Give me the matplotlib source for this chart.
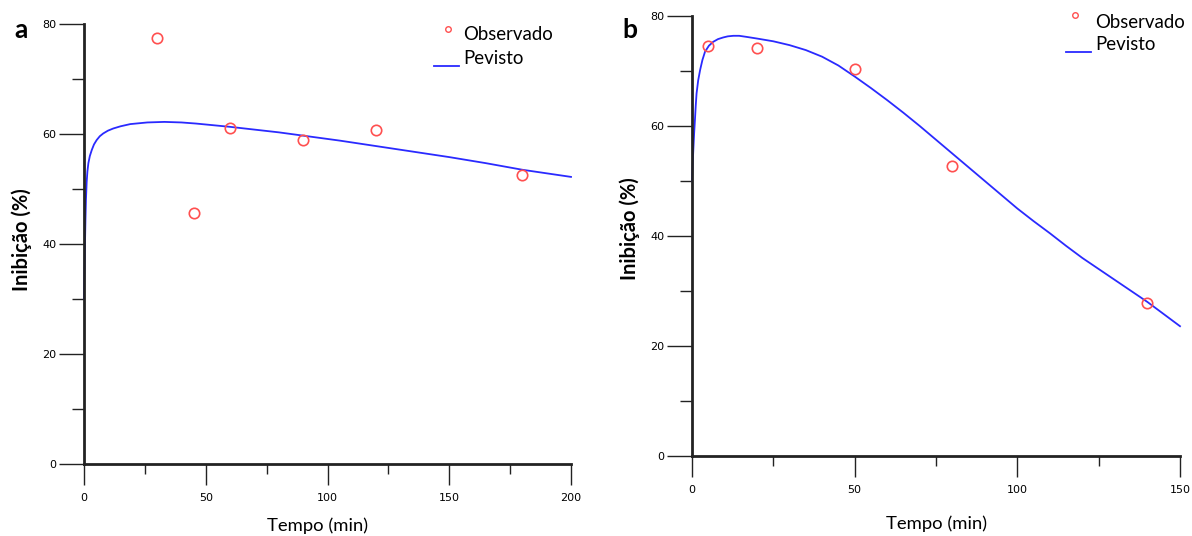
import matplotlib
matplotlib.use("Agg")
import matplotlib.pyplot as plt
from matplotlib.ticker import MultipleLocator
from matplotlib.lines import Line2D

# Panel a: observed inhibition and fitted curve
obs_t_a = [30, 45, 60, 90, 120, 180]
obs_v_a = [77.4, 45.6, 61.1, 58.9, 60.7, 52.5]
fit_t_a = [0, 0.2, 0.4, 0.6, 0.8, 1.1, 1.4, 1.8, 2.4, 3.2, 4.1, 5.2, 6.5,
           7.9, 9.8, 12, 15, 19, 26, 33, 40, 46, 53, 60, 70, 80, 90, 105,
           120, 135, 150, 165, 180, 200]
fit_v_a = [30, 35.5, 40, 44.5, 48, 51.3, 53.2, 54.7, 56.0, 57.1, 58.1, 58.9,
           59.6, 60.1, 60.6, 61.0, 61.4, 61.8, 62.1, 62.2, 62.1, 61.9, 61.6,
           61.3, 60.8, 60.3, 59.7, 58.8, 57.8, 56.8, 55.8, 54.7, 53.5, 52.2]

# Panel b
obs_t_b = [5, 20, 50, 80, 140]
obs_v_b = [74.5, 74.2, 70.4, 52.7, 27.9]
fit_t_b = [0, 0.2, 0.4, 0.65, 0.9, 1.15, 1.4, 1.9, 2.5, 3.2, 4, 5.2, 6.5,
           8, 9.6, 11, 12.7, 14.5, 16.8, 20, 25, 30, 35, 40, 45, 50, 55, 60,
           65, 70, 75, 80, 85, 90, 95, 100, 105, 110, 115, 120, 125, 130,
           135, 140, 145, 150]
fit_v_b = [50, 53.0, 55.6, 58.6, 61.1, 63.7, 65.9, 68.3, 70.2, 72.0, 73.5,
           74.6, 75.3, 75.8, 76.1, 76.3, 76.4, 76.4, 76.2, 75.9, 75.4, 74.7,
           73.8, 72.6, 71.0, 69.0, 66.9, 64.7, 62.4, 60.0, 57.5, 55.0, 52.5,
           50.0, 47.5, 45.0, 42.7, 40.5, 38.2, 36.0, 34.0, 32.0, 30.0, 28.0,
           25.8, 23.6]

xlims = [(0, 200), (0, 150)]
ylim = (0, 80)
ylabel = "Inibição (%)"
xlabel = "Tempo (min)"
letters = ["a", "b"]
legend_labels = ["Observado", "Pevisto"]

RED = "#ff5050"
BLUE = "#2a2aff"
W, H = 1192, 536

fig = plt.figure(figsize=(W / 100, H / 100), dpi=100)

def px_rect(l, r, t, b):
    return [l / W, 1 - b / H, (r - l) / W, (b - t) / H]

axes_px = [(84, 571, 24, 464), (692, 1180, 16, 456)]
data = [(obs_t_a, obs_v_a, fit_t_a, fit_v_a), (obs_t_b, obs_v_b, fit_t_b, fit_v_b)]
letter_pos = [(14, 38), (622, 38)]
ylabel_pos = [(22, 240), (630, 229)]
xlabel_pos = [(318, 526), (937, 524)]
legend_px = [(448, 29, 463, 35, 434, 459, 66, 59),
             (1075, 15, 1095, 22, 1066, 1091, 52, 45)]

lab_font = "Lato"

for i, ax_px in enumerate(axes_px):
    l, r, t, b = ax_px
    ax = fig.add_axes(px_rect(l, r, t, b))
    ot, ov, ft, fv = data[i]
    ax.plot(ft, fv, color=BLUE, lw=1.3, zorder=3, clip_on=False,
            solid_joinstyle="round")
    ax.plot(ot, ov, ls="none", marker="o", ms=7.5, mfc="none", mec=RED,
            mew=1.2, zorder=4, clip_on=False)
    ax.set_xlim(*xlims[i])
    ax.set_ylim(*ylim)
    for s in ("top", "right"):
        ax.spines[s].set_visible(False)
    for s in ("left", "bottom"):
        ax.spines[s].set_linewidth(2.0)
        ax.spines[s].set_color("#222222")
        ax.spines[s].set_zorder(5)
    ax.xaxis.set_major_locator(MultipleLocator(50))
    ax.xaxis.set_minor_locator(MultipleLocator(25))
    ax.yaxis.set_major_locator(MultipleLocator(20))
    ax.yaxis.set_minor_locator(MultipleLocator(10))
    ax.tick_params(axis="x", which="major", direction="out", length=15,
                   width=1.0, pad=6, labelsize=8, color="#222222")
    ax.tick_params(axis="x", which="minor", direction="out", length=7.5,
                   width=1.0, color="#222222")
    ax.tick_params(axis="y", which="major", direction="out", length=18,
                   width=1.0, pad=2, labelsize=8, color="#222222")
    ax.tick_params(axis="y", which="minor", direction="out", length=9,
                   width=1.0, color="#222222")
    for lab in ax.get_xticklabels() + ax.get_yticklabels():
        lab.set_fontfamily("DejaVu Sans")
    ax.patch.set_visible(False)

    # axis titles
    xx, xy = xlabel_pos[i]
    fig.text(xx / W, 1 - xy / H, xlabel, ha="center", va="center",
             fontsize=13.3, family=lab_font)
    yx, yy = ylabel_pos[i]
    fig.text(yx / W, 1 - yy / H, ylabel, ha="center", va="center",
             rotation=90, fontsize=14.5, family=lab_font, weight="bold")
    lx, ly = letter_pos[i]
    fig.text(lx / W, 1 - ly / H, letters[i], ha="left", va="baseline",
             fontsize=19, family=lab_font, weight="bold")

    # legend
    mx, my, tx, ty1, x0, x1, lyy, ty2 = legend_px[i]
    fig.add_artist(Line2D([mx / W], [1 - my / H], ls="none", marker="o",
                          ms=4, mfc="none", mec=RED, mew=1.0))
    fig.add_artist(Line2D([x0 / W, x1 / W], [1 - lyy / H, 1 - lyy / H],
                          color=BLUE, lw=1.3))
    fig.text(tx / W, 1 - ty1 / H, legend_labels[0], ha="left", va="center",
             fontsize=13.4, family=lab_font)
    fig.text(tx / W, 1 - ty2 / H, legend_labels[1], ha="left", va="center",
             fontsize=13.4, family=lab_font)

fig.savefig("out.png", dpi=100, facecolor="white")
